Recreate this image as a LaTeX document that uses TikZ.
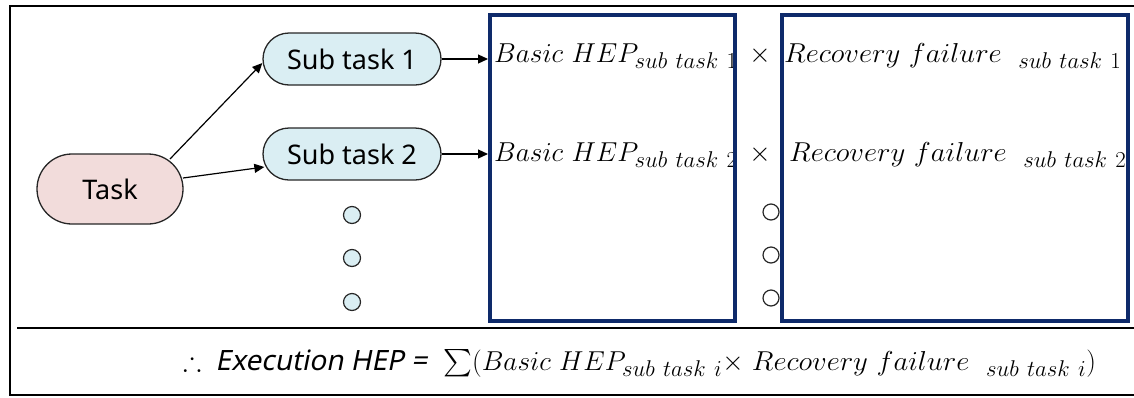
\documentclass[tikz,border=0pt]{standalone}
\usepackage{amsmath,amssymb}
\usepackage{graphicx}
\usepackage{fontspec}
\setsansfont{Noto Sans}
\newfontfamily\slantsans[FakeSlant=0.2]{Noto Sans}
\usetikzlibrary{arrows.meta,shapes.misc}

\definecolor{taskpink}{HTML}{F2DCDB}
\definecolor{subblue}{HTML}{DAEEF3}
\definecolor{hepnavy}{HTML}{0E2A6A}
\definecolor{edgegray}{HTML}{262626}

% italic product terms, set a little larger than the largest math size
\newcommand{\hepterm}[1]{\scalebox{1.1}{$#1$}}
% lower-case words run a little wider
\newcommand{\wideword}[1]{\scalebox{1.05}[1]{$#1$}}

\tikzset{
  pill/.style={rounded rectangle, draw=edgegray, line width=1.3pt,
    font=\sffamily\fontsize{27}{32}\selectfont, inner sep=0pt},
  dotmark/.style={circle, draw=edgegray, line width=1.2pt, inner sep=0pt,
    minimum size=17pt},
  hepbox/.style={draw=hepnavy, line width=4pt, inner sep=0pt},
  flow/.style={-{Triangle[length=10pt,width=9pt]}, line width=1.2pt, black},
  formula/.style={font=\fontsize{24.88}{30}\selectfont, inner sep=0pt, anchor=base west},
  frame/.style={line width=2pt, black}
}

\begin{document}
\begin{tikzpicture}[x=1pt,y=-1pt]
\useasboundingbox (0,0) rectangle (1134,397);

% outer frame and divider above the summary line
\draw[frame] (10,6) rectangle (1140,395);
\draw[frame] (17,328) -- (1140,328);

% task decomposition
\node[pill, fill=taskpink, minimum width=146pt, minimum height=70pt] (task) at (110,189) {Task};
\node[pill, fill=subblue, minimum width=178pt, minimum height=52pt] (s1) at (352,59) {Sub task 1};
\node[pill, fill=subblue, minimum width=178pt, minimum height=52pt] (s2) at (352,154) {Sub task 2};
\node[dotmark, fill=subblue] (d1) at (352,215) {};
\node[dotmark, fill=subblue] (d2) at (352,258) {};
\node[dotmark, fill=subblue] (d3) at (352,302) {};

\draw[flow] ([shift={(60,-30)}]task.center) -- ([yshift=-4pt]s1.west);
\draw[flow] ([shift={(73,-11)}]task.center) -- ([shift={(2,13)}]s2.west);

% product terms, clipped at the right border of the second box
\begin{scope}
\clip (480,8) rectangle (1128,326);
\node[formula] (hep1) at (494,62) {\hepterm{Basic\ HEP_{sub\ task\ 1}}};
\node[formula] (rec1) at (784,62) {\hepterm{\wideword{Recovery\ failure}\ \ _{sub\ task\ 1}}};
\node[formula] (hep2) at (494,161) {\hepterm{Basic\ HEP_{sub\ task\ 2}}};
\node[formula] (rec2) at (789,161) {\hepterm{\wideword{Recovery\ failure}\ \ _{sub\ task\ 2}}};
\end{scope}
\node[formula, anchor=center] (x1) at (760,56) {\hepterm{\times}};
\node[formula, anchor=center] (x2) at (760,155) {\hepterm{\times}};

\node[dotmark, fill=white, minimum size=16pt] (e1) at (771,212) {};
\node[dotmark, fill=white, minimum size=16pt] (e2) at (771,255) {};
\node[dotmark, fill=white, minimum size=16pt] (e3) at (771,298) {};

% the two factor boxes
\node[hepbox, minimum width=245pt, minimum height=306pt] (boxa) at (612.5,168) {};
\node[hepbox, minimum width=346pt, minimum height=306pt] (boxb) at (955,168) {};

\draw[flow] (s1.east) -- (boxa.west |- s1.east);
\draw[flow] (s2.east) -- (boxa.west |- s2.east);

% summary
\node[formula] (sum) at (183,370) {\hepterm{\therefore}\hspace{14pt}{\slantsans\fontsize{28}{34}\selectfont Execution HEP =}\hspace{16pt}\hepterm{\sum(Basic\ HEP_{sub\ task\ i}{\times}\ \wideword{Recovery\ failure}\ \ _{sub\ task\ i})}};
\end{tikzpicture}
\end{document}
